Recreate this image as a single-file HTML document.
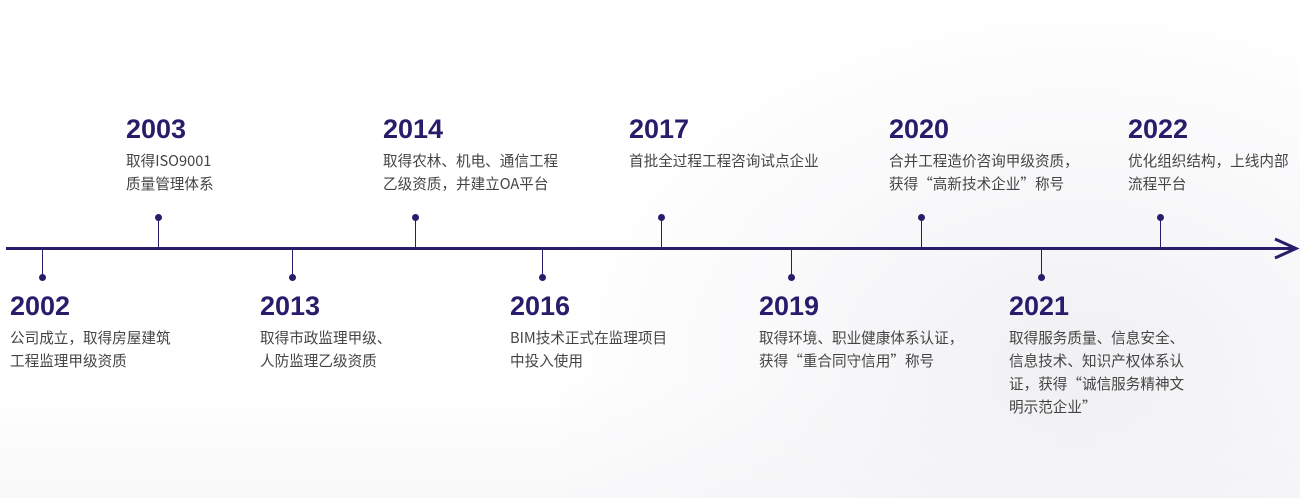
<!DOCTYPE html>
<html><head><meta charset="utf-8"><style>
body{margin:0;width:1300px;height:498px;background:#fff;position:relative;overflow:hidden;font-family:"Liberation Sans","Noto Sans CJK SC",sans-serif;color:#2a1c6b}
.bg{position:absolute;left:560px;top:0;width:740px;height:498px;background:radial-gradient(ellipse at 70% 75%,rgba(228,228,234,.55) 0%,rgba(240,240,244,.35) 45%,rgba(255,255,255,0) 75%)}
.bg2{position:absolute;left:0;top:380px;width:1300px;height:118px;background:linear-gradient(180deg,rgba(255,255,255,0),rgba(242,242,245,.5))}
.it{position:absolute}
.y{font-size:27px;font-weight:bold;color:#2a1c6b;line-height:30px}
.d{font-family:"Noto Sans CJK SC","Liberation Sans",sans-serif;font-size:14.6px;color:#444;line-height:23px;margin-top:5px;white-space:nowrap}
.tk{position:absolute;width:1.2px;background:#2a1c6b}
.dt{position:absolute;width:7px;height:7px;border-radius:50%;background:#2a1c6b}
</style></head><body>
<div class="bg"></div><div class="bg2"></div>
<div style="position:absolute;left:6px;top:247px;width:1288px;height:3px;background:#2a1c6b"></div>
<svg style="position:absolute;left:1270px;top:236px" width="30" height="26"><polyline points="5,3 26,12.5 5,22" fill="none" stroke="#2a1c6b" stroke-width="3"/></svg>

<div class="tk" style="left:157.5px;top:218px;height:30px"></div><div class="dt" style="left:154.5px;top:214px"></div>
<div class="tk" style="left:414.5px;top:218px;height:30px"></div><div class="dt" style="left:411.5px;top:214px"></div>
<div class="tk" style="left:660.5px;top:218px;height:30px"></div><div class="dt" style="left:657.5px;top:214px"></div>
<div class="tk" style="left:920.5px;top:218px;height:30px"></div><div class="dt" style="left:917.5px;top:214px"></div>
<div class="tk" style="left:1159.5px;top:218px;height:30px"></div><div class="dt" style="left:1156.5px;top:214px"></div>
<div class="tk" style="left:41.5px;top:249px;height:28px"></div><div class="dt" style="left:38.5px;top:274px"></div>
<div class="tk" style="left:291.5px;top:249px;height:28px"></div><div class="dt" style="left:288.5px;top:274px"></div>
<div class="tk" style="left:541.5px;top:249px;height:28px"></div><div class="dt" style="left:538.5px;top:274px"></div>
<div class="tk" style="left:790.5px;top:249px;height:28px"></div><div class="dt" style="left:787.5px;top:274px"></div>
<div class="tk" style="left:1040.5px;top:249px;height:28px"></div><div class="dt" style="left:1037.5px;top:274px"></div>

<div class="it" style="left:126px;top:114px"><div class="y">2003</div><div class="d">取得ISO9001<br>质量管理体系</div></div>
<div class="it" style="left:383px;top:114px"><div class="y">2014</div><div class="d">取得农林、机电、通信工程<br>乙级资质，并建立OA平台</div></div>
<div class="it" style="left:629px;top:114px"><div class="y">2017</div><div class="d">首批全过程工程咨询试点企业</div></div>
<div class="it" style="left:889px;top:114px"><div class="y">2020</div><div class="d">合并工程造价咨询甲级资质，<br>获得“高新技术企业”称号</div></div>
<div class="it" style="left:1128px;top:114px"><div class="y">2022</div><div class="d">优化组织结构，上线内部<br>流程平台</div></div>

<div class="it" style="left:10px;top:291px"><div class="y">2002</div><div class="d">公司成立，取得房屋建筑<br>工程监理甲级资质</div></div>
<div class="it" style="left:260px;top:291px"><div class="y">2013</div><div class="d">取得市政监理甲级、<br>人防监理乙级资质</div></div>
<div class="it" style="left:510px;top:291px"><div class="y">2016</div><div class="d">BIM技术正式在监理项目<br>中投入使用</div></div>
<div class="it" style="left:759px;top:291px"><div class="y">2019</div><div class="d">取得环境、职业健康体系认证，<br>获得“重合同守信用”称号</div></div>
<div class="it" style="left:1009px;top:291px"><div class="y">2021</div><div class="d">取得服务质量、信息安全、<br>信息技术、知识产权体系认<br>证，获得“诚信服务精神文<br>明示范企业”</div></div>
</body></html>
